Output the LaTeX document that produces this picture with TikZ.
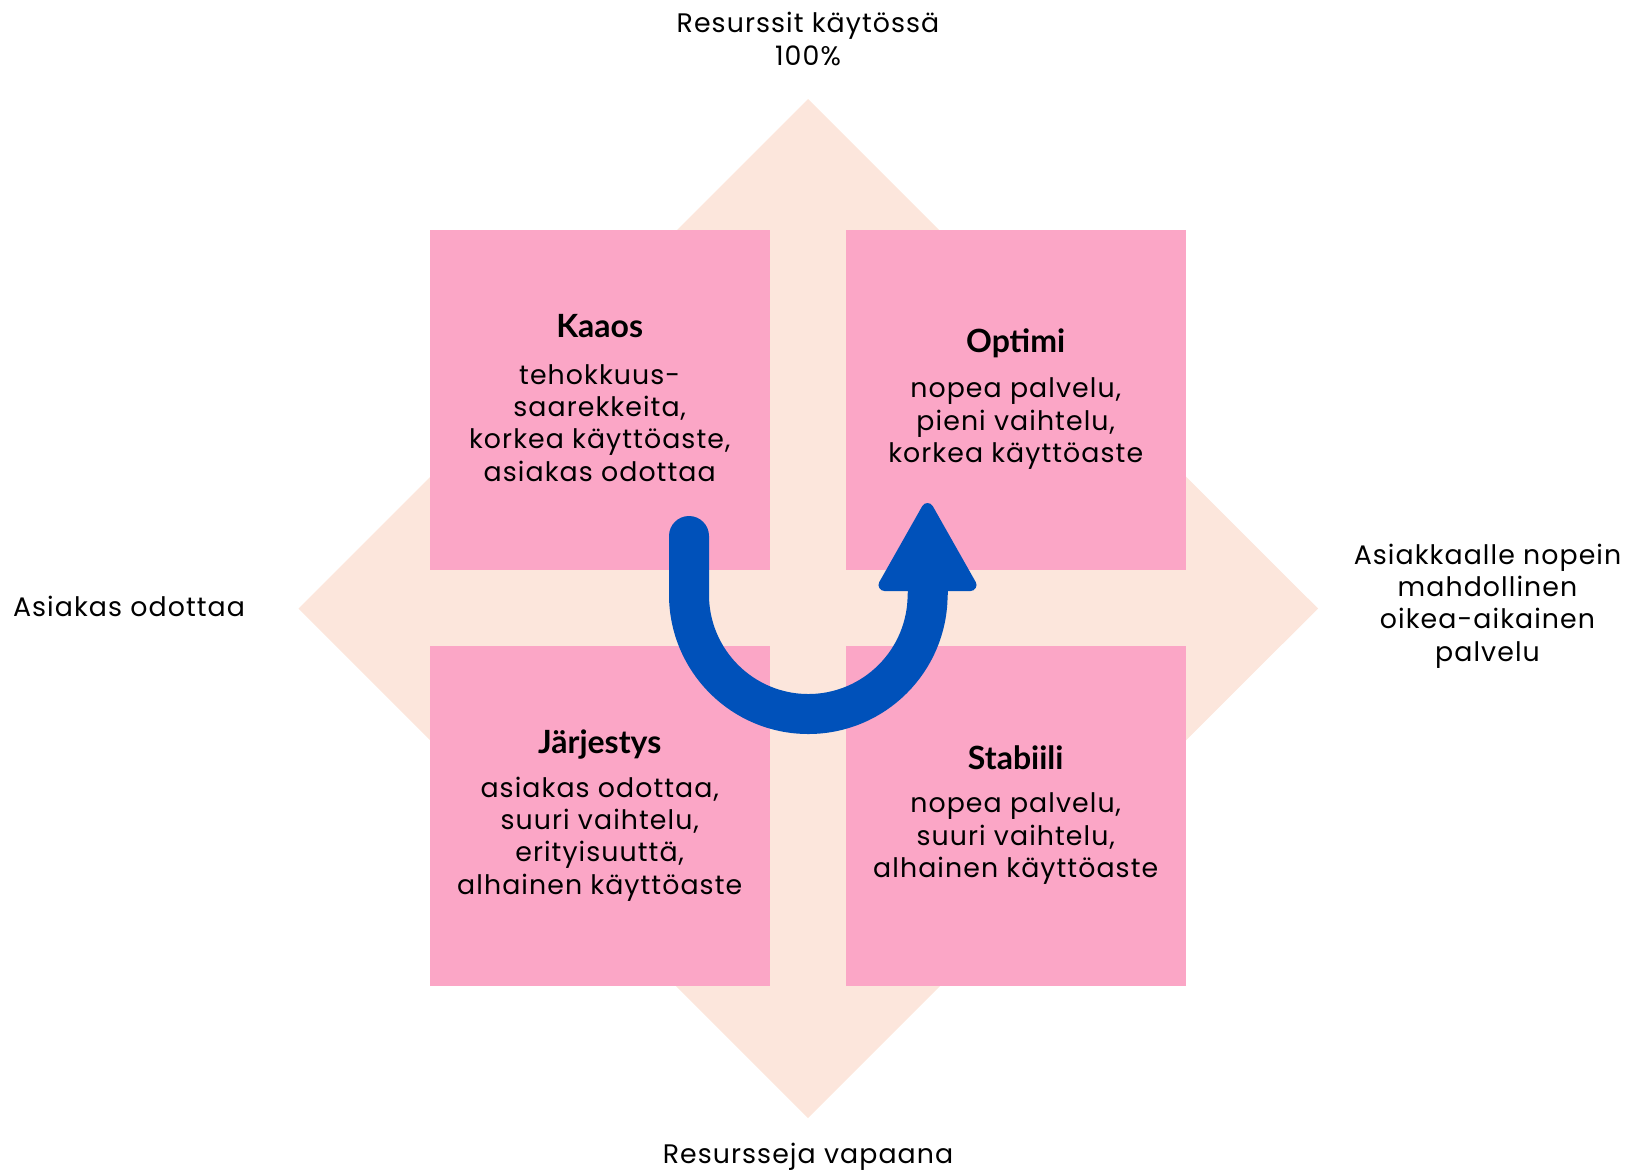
\documentclass[tikz,border=0pt]{standalone}
\usepackage{fontspec}
\setmainfont{Poppins}[LetterSpace=4]
\newfontfamily\titlefont{Lato}
\begin{document}
\definecolor{peach}{HTML}{FCE6DC}
\definecolor{rose}{HTML}{FBA6C6}
\definecolor{flowblue}{HTML}{0051BA}
\begin{tikzpicture}[x=0.5pt,y=-0.5pt,
  quad/.style={rectangle, fill=rose, minimum width=170pt, minimum height=170pt, inner sep=0pt},
  qtitle/.style={anchor=base, inner sep=0pt, font=\titlefont\bfseries\fontsize{16}{18}\selectfont},
  qbody/.style={align=center, inner sep=0pt, font=\fontsize{13.4}{16.15}\selectfont},
  axislabel/.style={align=center, inner sep=0pt, font=\fontsize{13.4}{16.15}\selectfont}]
\useasboundingbox (0,0) rectangle (1631,1173);
% background diamond
\coordinate (dt) at (808,99);
\coordinate (dr) at (1318,608.5);
\coordinate (db) at (808,1118);
\coordinate (dl) at (298.5,608.5);
\fill[peach] (dt) -- (dr) -- (db) -- (dl) -- cycle;
% four quadrants
\node[quad] (kaaos) at (599.7,400) {};
\node[quad] (optimi) at (1015.7,400) {};
\node[quad] (jarj) at (599.7,816) {};
\node[quad] (stab) at (1015.7,816) {};
% quadrant texts
\node[qtitle] (kaaosT) at (599.7,337.3) {Kaaos};
\node[qbody] (kaaosB) at (599.7,422.8) {tehokkuus-\\saarekkeita,\\korkea käyttöaste,\\asiakas odottaa};
\node[qtitle] (optimiT) at (1015.7,352.7) {Optimi};
\node[qbody] (optimiB) at (1015.7,423.7) {nopea palvelu,\\pieni vaihtelu,\\korkea käyttöaste};
\node[qtitle] (jarjT) at (599.7,753.4) {Järjestys};
\node[qbody] (jarjB) at (599.7,838.9) {asiakas odottaa,\\suuri vaihtelu,\\erityisuuttä,\\alhainen käyttöaste};
\node[qtitle] (stabT) at (1015.7,769) {Stabiili};
\node[qbody] (stabB) at (1015.7,838.7) {nopea palvelu,\\suuri vaihtelu,\\alhainen käyttöaste};
% axis labels
\node[axislabel] (top) at (808,39) {Resurssit käytössä\\100\%};
\node[axislabel] (bottom) at (808,1157) {Resursseja vapaana};
\node[axislabel] (left) at (129,606) {Asiakas odottaa};
\node[axislabel] (right) at (1487.5,606) {Asiakkaalle nopein\\mahdollinen\\oikea-aikainen\\palvelu};
% curved arrow from Kaaos to Optimi
\coordinate (aStart) at (689,536);
\coordinate (aEnd) at (927.5,590);
\coordinate (aTip) at (927.5,509);
\draw[flowblue, line width=20pt, line cap=round] (aStart) -- (689,594.7)
  arc[start angle=180, end angle=0, radius=119.3];
\draw[flowblue, line width=20pt] (927.5,594.7) -- (aEnd);
\filldraw[flowblue, line width=6pt, line join=round] (aTip) -- (970.5,585) -- (884.5,585) -- cycle;
\end{tikzpicture}
\end{document}
